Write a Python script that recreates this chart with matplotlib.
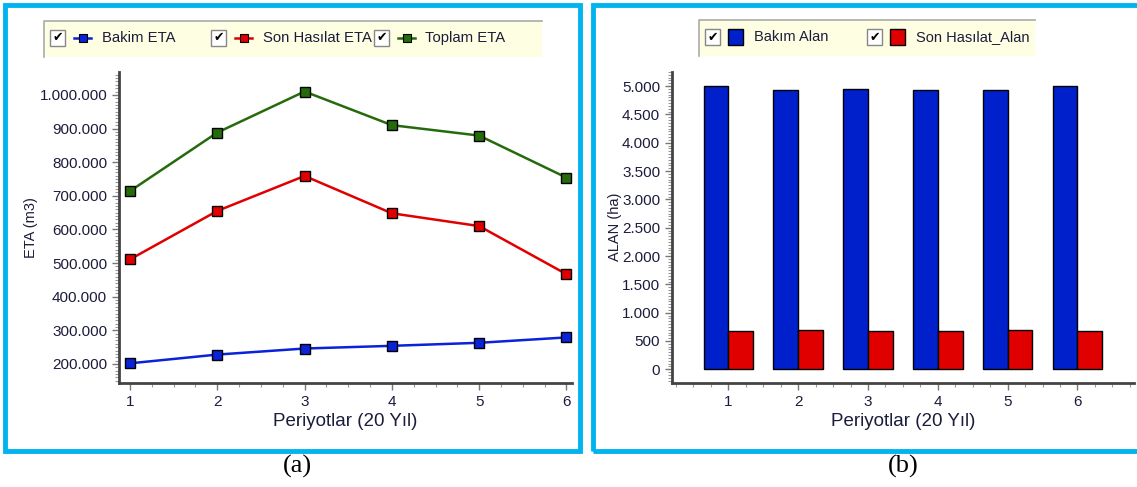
import matplotlib.pyplot as plt
import matplotlib.patches as mpatches
from matplotlib.lines import Line2D
from matplotlib.ticker import FuncFormatter, MultipleLocator, AutoMinorLocator
import numpy as np

plt.rcParams['font.family'] = ['Liberation Sans', 'DejaVu Sans']

periyot = [1, 2, 3, 4, 5, 6]

# hacim (m3)
bakim_eta = [202000, 228000, 246000, 254000, 263000, 279000]
son_hasilat_eta = [511000, 655000, 759000, 648000, 610000, 467000]
toplam_eta = [714000, 888000, 1010000, 910000, 879000, 754000]

# alan (ha)
bakim_alan = [5000, 4924, 4947, 4924, 4924, 5005]
son_hasilat_alan = [671, 699, 671, 671, 699, 671]

BLUE = '#0a22d8'
RED = '#e00000'
GREEN = '#256b0c'
BAR_BLUE = '#0020cc'
FRAME = '#00b4ef'
TXT = '#1c1c3c'

W, H = 1137, 487


def fx(px):
    return px / W


def fy(py):
    return 1 - py / H


def tr_fmt(v, pos):
    return f'{int(round(v)):,}'.replace(',', '.')


def style_axis(ax):
    for s in ['top', 'right']:
        ax.spines[s].set_visible(False)
    for s in ['left', 'bottom']:
        ax.spines[s].set_linewidth(2)
        ax.spines[s].set_color('#444444')
    ax.tick_params(which='major', length=5, width=1, color='#777777',
                   labelsize=11, labelcolor=TXT)
    ax.tick_params(which='minor', length=3, width=0.8, color='#999999')
    ax.xaxis.set_major_locator(MultipleLocator(1))
    ax.xaxis.set_minor_locator(MultipleLocator(0.25))
    ax.yaxis.set_minor_locator(AutoMinorLocator(10))
    ax.yaxis.set_major_formatter(FuncFormatter(tr_fmt))
    ax.set_xlabel('Periyotlar (20 Yıl)', fontsize=13.5, color=TXT, labelpad=3)


def checkbox(fig, x, y):
    fig.patches.append(mpatches.Rectangle((fx(x), fy(y + 8)), fx(15), 16 / H,
                                          transform=fig.transFigure,
                                          facecolor='white', edgecolor='#888888',
                                          linewidth=1))
    fig.text(fx(x + 7.5), fy(y), '✔', fontsize=9, ha='center', va='center',
             family='DejaVu Sans', color='black')


def legend_box(fig, x0, x1, y0, y1):
    fig.patches.append(mpatches.Rectangle((fx(x0), fy(y1)), fx(x1 - x0), (y1 - y0) / H,
                                          transform=fig.transFigure,
                                          facecolor='#fefee2', edgecolor='none'))
    fig.add_artist(Line2D([fx(x0), fx(x0), fx(x1)], [fy(y1), fy(y0), fy(y0)],
                          transform=fig.transFigure, color='#aaaaaa', linewidth=1.2))


fig = plt.figure(figsize=(W / 100, H / 100), dpi=100)

# panel frames
fig.patches.append(mpatches.Rectangle((fx(5), fy(451)), fx(575), 446 / H,
                                      transform=fig.transFigure, fill=False,
                                      edgecolor=FRAME, linewidth=3.5))
fig.patches.append(mpatches.Rectangle((fx(593), fy(451)), fx(560), 446 / H,
                                      transform=fig.transFigure, fill=False,
                                      edgecolor=FRAME, linewidth=3.5))

# (a) ETA line chart
ax1 = fig.add_axes([fx(119), fy(383), fx(452.7), 311 / H])
ax1.plot(periyot, bakim_eta, color=BLUE, lw=1.8, marker='s', ms=7,
         mfc=BLUE, mec='black', mew=1)
ax1.plot(periyot, son_hasilat_eta, color=RED, lw=1.8, marker='s', ms=7,
         mfc=RED, mec='black', mew=1)
ax1.plot(periyot, toplam_eta, color=GREEN, lw=1.8, marker='s', ms=7,
         mfc=GREEN, mec='black', mew=1)
ax1.set_xlim(0.874, 6.06)
ax1.set_ylim(143500, 1068000)
ax1.yaxis.set_major_locator(MultipleLocator(100000))
style_axis(ax1)
ax1.set_ylabel('ETA (m3)', fontsize=10.5, color=TXT, labelpad=1)

# (b) alan bar chart
ax2 = fig.add_axes([fx(672), fy(382.7), fx(462), 311 / H])
x = np.array(periyot)
bw = 0.355
ax2.bar(x - bw / 2, bakim_alan, width=bw, color=BAR_BLUE, edgecolor='black', linewidth=1)
ax2.bar(x + bw / 2, son_hasilat_alan, width=bw, color=RED, edgecolor='black', linewidth=1)
ax2.set_xlim(0.193, 6.81)
ax2.set_ylim(-236, 5253)
ax2.yaxis.set_major_locator(MultipleLocator(500))
style_axis(ax2)
ax2.set_ylabel('ALAN (ha)', fontsize=10.5, color=TXT, labelpad=0)

# legends
legend_box(fig, 44, 542, 21, 57)
leg1 = [(50, 74, 102, 'Bakim ETA', BLUE),
        (211, 235, 263, 'Son Hasılat ETA', RED),
        (374, 398, 425, 'Toplam ETA', GREEN)]
for cx, mx, tx, label, c in leg1:
    checkbox(fig, cx, 38)
    fig.add_artist(Line2D([fx(mx), fx(mx + 17)], [fy(38), fy(38)],
                          transform=fig.transFigure, color=c, lw=1.8))
    fig.add_artist(Line2D([fx(mx + 8.5)], [fy(38)], transform=fig.transFigure,
                          marker='s', ms=6, mfc=c, mec='black', mew=0.8))
    fig.text(fx(tx), fy(38), label, fontsize=10.7, va='center', color=TXT)

legend_box(fig, 699, 1035, 20, 56)
leg2 = [(705, 728, 754, 'Bakım Alan', BAR_BLUE),
        (867, 890, 916, 'Son Hasılat_Alan', RED)]
for cx, sx, tx, label, c in leg2:
    checkbox(fig, cx, 37)
    fig.patches.append(mpatches.Rectangle((fx(sx), fy(45)), fx(15), 16 / H,
                                          transform=fig.transFigure,
                                          facecolor=c, edgecolor='black', linewidth=1))
    fig.text(fx(tx), fy(37), label, fontsize=10.5, va='center', color=TXT)

fig.text(fx(297), fy(466), '(a)', fontsize=19, family='Liberation Serif',
         ha='center', va='center')
fig.text(fx(903), fy(466), '(b)', fontsize=19, family='Liberation Serif',
         ha='center', va='center')

fig.savefig('out.png', dpi=100)
